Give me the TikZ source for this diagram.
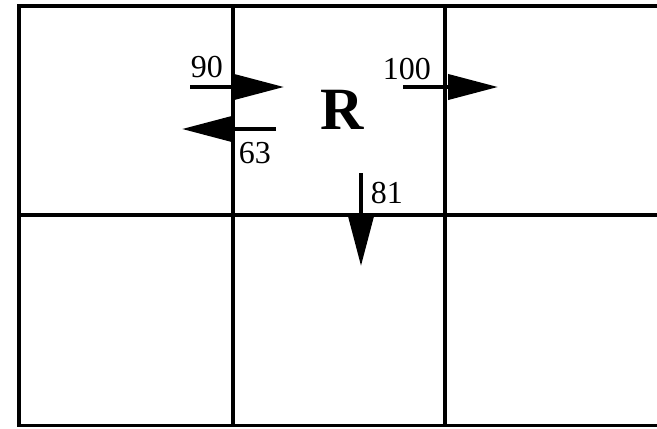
\documentclass[tikz,border=0pt]{standalone}
\usepackage{fontspec}
\setmainfont{Liberation Serif}
\usetikzlibrary{arrows.meta}

\begin{document}
\begin{tikzpicture}[x=1pt,y=-1pt,line width=3.6pt]
\providecommand{\fnum}{\fontsize{32}{34}\selectfont}
\tikzset{flow/.style={line width=4pt,-{Triangle[length=50pt,width=25pt]}},
         lab/.style={anchor=base west,inner sep=0pt,font=\fnum}}
\useasboundingbox (0,0) rectangle (657,429);
% grid
\draw (657,6) -- (19,6) -- (19,425.5) -- (657,425.5);
\draw (19,215) -- (657,215);
\draw (233,6) -- (233,425.5);
\draw (445,6) -- (445,425.5);
% region
\node[anchor=base west,inner sep=0pt,font=\fontsize{60}{62}\selectfont\bfseries] (reg) at (319,129) {R};
% flows
\coordinate (w90a) at (190,87);  \coordinate (w90b) at (284,87);
\coordinate (w63a) at (276,129); \coordinate (w63b) at (182,129);
\coordinate (e100a) at (403,87); \coordinate (e100b) at (498,87);
\coordinate (s81a) at (361,173); \coordinate (s81b) at (361,266);
\draw[flow] (w90a) -- (w90b);
\draw[flow] (w63a) -- (w63b);
\draw[flow] (e100a) -- (e100b);
\draw[flow] (s81a) -- (s81b);
\node[lab] (l90) at (189,77) {90};
\node[lab] (l63) at (237,163) {63};
\node[lab] (l100) at (381,79) {100};
\node[lab] (l81) at (369,203) {81};
\end{tikzpicture}
\end{document}
